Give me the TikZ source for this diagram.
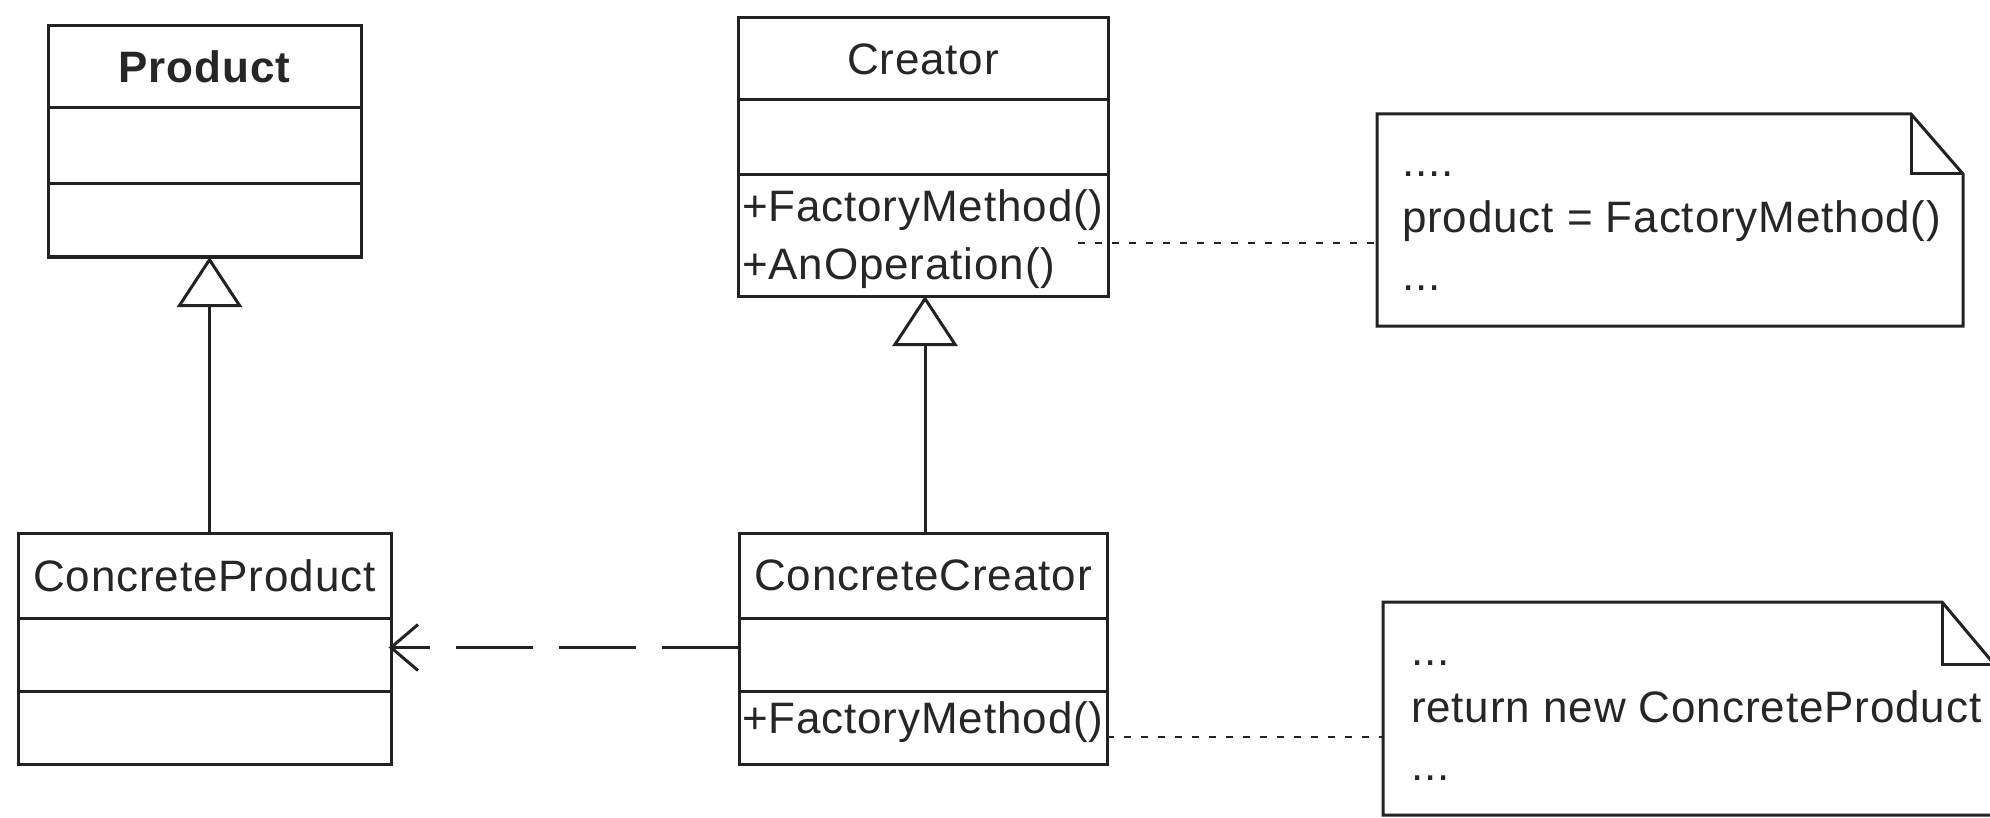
\documentclass[tikz,border=0pt]{standalone}
\usepackage{fontspec}
\setmainfont{Liberation Sans}[LetterSpace=2]
\usetikzlibrary{arrows.meta}
\definecolor{linec}{HTML}{222222}
\definecolor{textc}{HTML}{262626}
\newcommand\umlfont{\fontsize{22}{26}\selectfont}
\tikzset{
  comp/.style={draw=linec, line width=1.5pt, rectangle, inner sep=0pt, outer sep=0pt,
    anchor=north west, font=\umlfont, text=textc},
  optext/.style={inner sep=0pt, outer sep=0pt, anchor=base west, font=\umlfont, text=textc},
  notebox/.style={rectangle, inner sep=0pt, outer sep=0pt, anchor=north west},
  noteline/.style={draw=linec, line width=1.5pt, line join=miter},
  gen/.style={draw=linec, line width=1.5pt, -{Triangle[open,length=25pt,width=32.5pt,line width=1.5pt]}},
  dep/.style={draw=linec, line width=1.5pt, dash pattern=on 38.5pt off 13pt},
  dephead/.style={draw=linec, line width=1.5pt, line join=miter},
  dotline/.style={draw=linec, line width=1.2pt, dash pattern=on 3.5pt off 5pt},
}
\begin{document}
\begin{tikzpicture}[x=0.5pt,y=-0.5pt]
\path[use as bounding box] (0,0) rectangle (1990,818);
\clip (0,0) rectangle (1990,818);
\fill[white] (0,0) rectangle (1990,818);

% Product
\node[comp, minimum width=156.5pt, minimum height=41pt, font=\umlfont\bfseries] (prodname) at (48,26) {Product};
\node[comp, minimum width=156.5pt, minimum height=38pt] (prodattr) at (48,108) {};
\node[comp, minimum width=156.5pt, minimum height=36.5pt] (prodops) at (48,184) {};

% ConcreteProduct
\node[comp, minimum width=186.5pt, minimum height=42.5pt] (cpname) at (18,533) {ConcreteProduct};
\node[comp, minimum width=186.5pt, minimum height=36.5pt] (cpattr) at (18,618) {};
\node[comp, minimum width=186.5pt, minimum height=36.5pt] (cpops) at (18,691) {};

% Creator
\node[comp, minimum width=185pt, minimum height=41pt] (crename) at (738,18) {Creator};
\node[comp, minimum width=185pt, minimum height=37.5pt] (creattr) at (738,100) {};
\node[comp, minimum width=185pt, minimum height=60.5pt] (creops) at (738,175) {};
\node[optext] (creop1) at (742,222) {+FactoryMethod()};
\node[optext] (creop2) at (742,279) {+AnOperation()};

% ConcreteCreator
\node[comp, minimum width=184pt, minimum height=42.5pt] (ccname) at (739,533) {ConcreteCreator};
\node[comp, minimum width=184pt, minimum height=36.5pt] (ccattr) at (739,618) {};
\node[comp, minimum width=184pt, minimum height=36.5pt] (ccops) at (739,691) {};
\node[optext] (ccop1) at (742,733) {+FactoryMethod()};

% Note 1
\node[notebox, minimum width=293pt, minimum height=106pt] (note1) at (1377,114) {};
\draw[noteline] (note1.north west) -- ([xshift=-26pt]note1.north east)
  -- ([yshift=-30pt]note1.north east) -- (note1.south east) -- (note1.south west) -- cycle;
\draw[noteline] ([xshift=-26pt]note1.north east) -- ([xshift=-26pt,yshift=-30pt]note1.north east)
  -- ([yshift=-30pt]note1.north east);
\node[optext] (n1t1) at (1402,177) {....};
\node[optext] (n1t2) at (1402,233) {product = FactoryMethod()};
\node[optext] (n1t3) at (1402,290) {...};

% Note 2
\node[notebox, minimum width=305.5pt, minimum height=106.5pt] (note2) at (1383,602) {};
\draw[noteline] (note2.north west) -- ([xshift=-26pt]note2.north east)
  -- ([yshift=-31pt]note2.north east) -- (note2.south east) -- (note2.south west) -- cycle;
\draw[noteline] ([xshift=-26pt]note2.north east) -- ([xshift=-26pt,yshift=-31pt]note2.north east)
  -- ([yshift=-31pt]note2.north east);
\node[optext] (n2t1) at (1411,665) {...};
\node[optext] (n2t2) at (1411,722) {return new ConcreteProduct};
\node[optext] (n2t3) at (1411,780) {...};

% Generalizations
\draw[gen] ([xshift=2.5pt]cpname.north) -- ([xshift=2.5pt]prodops.south);
\draw[gen] ([xshift=1pt]ccname.north) -- ([xshift=1pt]creops.south);

% Dependency (dashed line with open arrow head at ConcreteProduct)
\draw[dep] ([yshift=3.5pt]ccattr.west) -- ([yshift=3.5pt]cpattr.east);
\draw[dephead] ([xshift=13.5pt,yshift=15pt]cpattr.east) -- ([yshift=3.5pt]cpattr.east)
  -- ([xshift=13.5pt,yshift=-8pt]cpattr.east);

% Note links
\draw[dotline] ([xshift=-15pt,yshift=-3.75pt]creops.east) -- ([yshift=-11.5pt]note1.west);
\draw[dotline] ([yshift=-4.75pt]ccops.east) -- ([yshift=-14.25pt]note2.west);
\end{tikzpicture}
\end{document}
